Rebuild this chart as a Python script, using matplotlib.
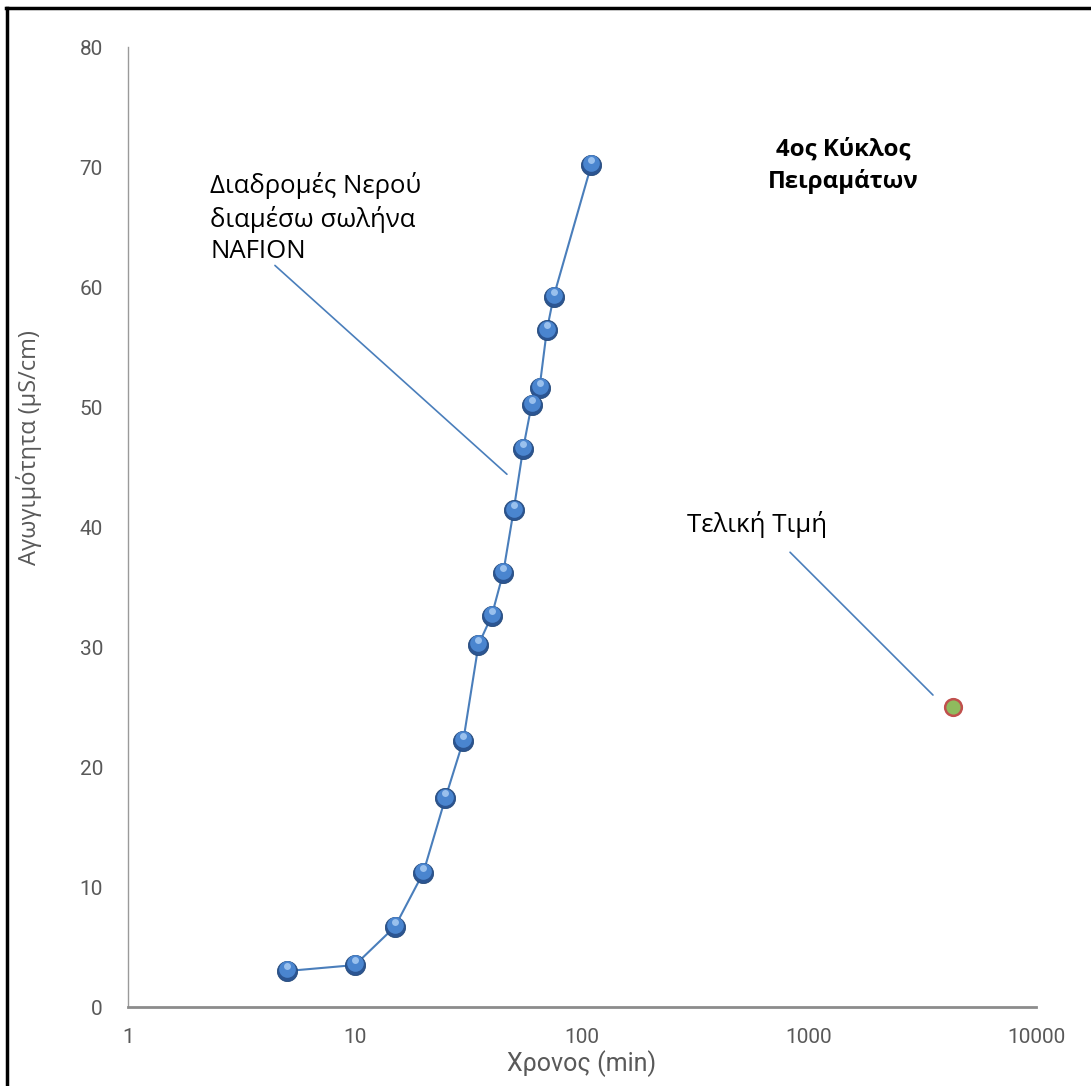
import matplotlib
matplotlib.use("Agg")
import matplotlib.pyplot as plt
from matplotlib.lines import Line2D
from matplotlib.transforms import ScaledTranslation

time_min = [5, 10, 15, 20, 25, 30, 35, 40, 45, 50, 55, 60, 65, 70, 75, 110]
conductivity = [3.0, 3.5, 6.7, 11.2, 17.4, 22.2, 30.2, 32.6, 36.2, 41.4, 46.5, 50.2, 51.6, 56.4, 59.2, 70.2]
final_time = [4320]
final_value = [25.0]
x_ticks = [1, 10, 100, 1000, 10000]
y_ticks = [0, 10, 20, 30, 40, 50, 60, 70, 80]

narrow = 'Roboto'
textfont = 'Open Sans'

fig = plt.figure(figsize=(10.91, 10.86), dpi=100)
ax = fig.add_axes([0.1173, 0.0727, 0.8323, 0.884])
ax.set_xscale('log')
ax.set_xlim(1, 10000)
ax.set_ylim(0, 80)

ax.plot(time_min, conductivity, color='#4A7EBB', lw=1.5, zorder=2)
# sphere-like markers: dark base, mid body, highlight
ax.plot(time_min, conductivity, ls='none', marker='o', ms=14.5,
        mfc='#2B5592', mec='#24497A', mew=0.6, zorder=3)
up1 = ax.transData + ScaledTranslation(0, 1.2 / 72, fig.dpi_scale_trans)
ax.plot(time_min, conductivity, ls='none', marker='o', ms=12,
        mfc='#4A85CF', mec='none', zorder=4, transform=up1)
up2 = ax.transData + ScaledTranslation(0, 3.5 / 72, fig.dpi_scale_trans)
ax.plot(time_min, conductivity, ls='none', marker='o', ms=5,
        mfc='#A8CBF3', mec='none', alpha=0.85, zorder=5, transform=up2)

ax.plot(final_time, final_value, ls='none', marker='o', ms=12,
        mfc='#8FBA5E', mec='#C0504D', mew=1.8, zorder=3)

ax.set_xticks(x_ticks)
ax.set_xticklabels([str(t) for t in x_ticks])
ax.set_yticks(y_ticks)
ax.set_yticklabels([str(t) for t in y_ticks])
ax.minorticks_off()
ax.tick_params(length=0, labelsize=15, labelcolor='#595959')
ax.tick_params(axis='y', pad=18)
ax.tick_params(axis='x', pad=15)
for lab in ax.get_xticklabels() + ax.get_yticklabels():
    lab.set_fontfamily(narrow)
for s in ['top', 'right']:
    ax.spines[s].set_visible(False)
ax.spines['left'].set_color('#9A9A9A')
ax.spines['left'].set_linewidth(1.0)
ax.spines['bottom'].set_color('#8C8C8C')
ax.spines['bottom'].set_linewidth(2.0)

ax.set_xlabel('Χρονος (min)', fontsize=18, color='#595959', family=narrow)
ax.xaxis.set_label_coords(0.5, -0.045)
ax.set_ylabel('Αγωγιμότητα (μS/cm)', fontsize=17, color='#595959', family=textfont)
ax.yaxis.set_label_coords(-0.0947, 0.583)

ax.text(2.3, 65.75, 'Διαδρομές Νερού\nδιαμέσω σωλήνα\nNAFION', fontsize=18.5,
        family=textfont, va='center', ha='left', linespacing=1.32)
ax.annotate('', xy=(46.7, 44.4), xytext=(4.44, 61.8),
            arrowprops=dict(arrowstyle='-', color='#4A7EBB', lw=1.2,
                            shrinkA=0, shrinkB=0))
ax.text(290, 40.25, 'Τελική Τιμή', fontsize=18.5, family=textfont,
        va='center', ha='left')
ax.annotate('', xy=(3516, 26.0), xytext=(825, 37.9),
            arrowprops=dict(arrowstyle='-', color='#4A7EBB', lw=1.2,
                            shrinkA=0, shrinkB=0))
ax.text(1413, 70.1, '4ος Κύκλος\nΠειραμάτων', fontsize=17.3, fontweight='bold',
        family=textfont, ha='center', va='center', linespacing=1.42)

fig.add_artist(Line2D([0.0068, 0.0068], [0.0, 0.9924], transform=fig.transFigure,
                      color='black', lw=2.5))
fig.add_artist(Line2D([0.0055, 1.0], [0.9924, 0.9924], transform=fig.transFigure,
                      color='black', lw=2.5))

fig.savefig('out.png', dpi=100, facecolor='white')
